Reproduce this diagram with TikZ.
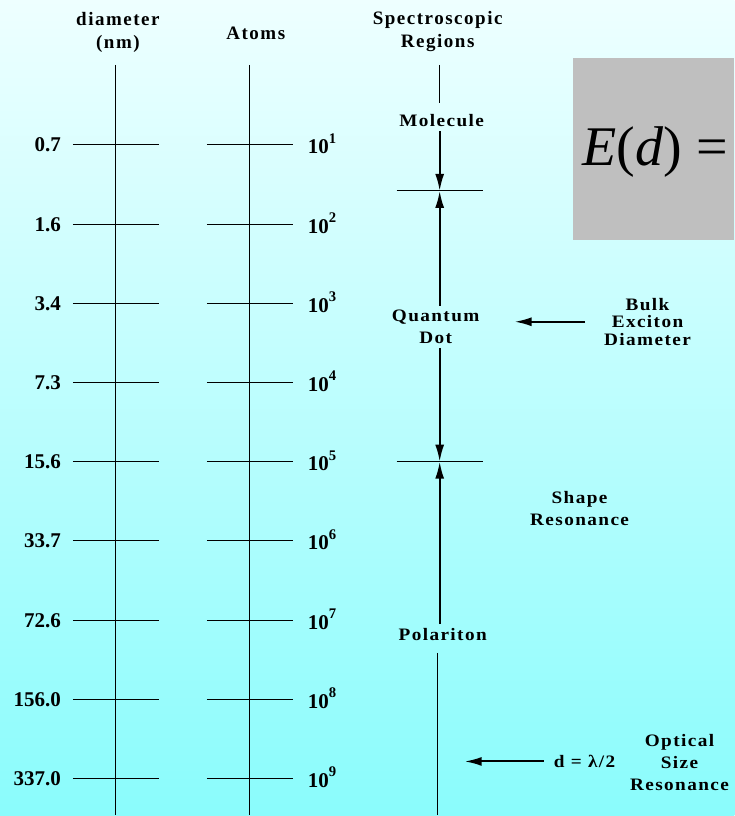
\documentclass[tikz,border=0pt]{standalone}
\usepackage{fontspec}
\setmainfont{Liberation Serif}
\newfontfamily\spacedfont[LetterSpace=8, FakeStretch=1.1]{Liberation Serif}
\newfontfamily\headfont[LetterSpace=8]{Liberation Serif}
\usetikzlibrary{arrows.meta}

\definecolor{skytop}{RGB}{238,255,255}
\definecolor{skybottom}{RGB}{138,252,252}
\definecolor{boxgray}{RGB}{191,191,191}

\tikzset{
  axis/.style={line width=1.2pt},
  tick/.style={line width=1pt},
  head/.style={font=\headfont\fontsize{19}{23}\selectfont\bfseries, align=center, inner sep=0pt},
  num/.style={font=\fontsize{21}{22}\selectfont\bfseries, inner sep=0pt},
  region/.style={font=\spacedfont\fontsize{17.5}{22}\selectfont\bfseries, align=center, inner sep=4pt},
  span/.style={line width=2pt, -{Latex[length=17pt,width=9pt]}},
}

\begin{document}
\begin{tikzpicture}[x=1pt, y=-1pt]
	% background
	\shade[top color=skytop, bottom color=skybottom] (0,0) rectangle (735,816);
	\fill[boxgray] (573,58) rectangle (735,240);
	\node[anchor=base west, inner sep=0pt, font=\fontsize{56}{56}\selectfont] (energy) at (583,166) {\textit{E}(\textit{d}) =};

	% headers
	\node[head] (hdiam) at (118,32) {diameter\\(nm)};
	\node[head] (hatom) at (256,33) {Atoms};
	\node[head] (hspec) at (438,32) {Spectroscopic\\Regions};

	% scales
	\coordinate (dtop) at (116,65);
	\coordinate (dbot) at (116,816);
	\coordinate (atop) at (250,65);
	\coordinate (abot) at (250,816);
	\draw[tick] (dtop) -- (dbot);
	\draw[tick] (atop) -- (abot);

	\foreach \dia/\ex [count=\i] in {0.7/1,1.6/2,3.4/3,7.3/4,15.6/5,33.7/6,72.6/7,156.0/8,337.0/9}{
		\pgfmathsetmacro\yy{145+(\i-1)*79.25}
		\draw[tick] (73,\yy) -- (159,\yy);
		\draw[tick] (207,\yy) -- (293,\yy);
		\node[num, anchor=base east] (d\i) at (61,\yy+7) {\dia};
		\node[num, anchor=base west] (a\i) at (308,\yy+9) {10\raisebox{3pt}{\textsuperscript{\ex}}};
	}

	% spectroscopic regions
	\coordinate (stop) at (440,65);
	\coordinate (smid) at (440,103);
	\coordinate (sbot) at (438,816);
	\coordinate (b1) at (440,191);
	\coordinate (b2) at (440,462);
	\draw[tick] (397,191) -- (483,191);
	\draw[tick] (397,462) -- (483,462);

	\node[region] (mol) at (442,121) {Molecule};
	\node[region] (qd) at (436,327) {Quantum\\Dot};
	\node[region] (pol) at (443,635) {Polariton};

	\draw[axis] (stop) -- (smid);
	\draw[span] (mol.south -| b1) -- (b1);
	\draw[span] (qd.north -| b1) -- (b1);
	\draw[span] (qd.south -| b2) -- (b2);
	\draw[span] (pol.north -| b2) -- (b2);
	\draw[axis, shorten <=8pt] (pol.south -| sbot) -- (sbot);

	% side notes
	\node[region, font=\spacedfont\fontsize{17.5}{17.5}\selectfont\bfseries] (bulk) at (648,322) {Bulk\\Exciton\\Diameter};
	\node[region] (shape) at (580,509) {Shape\\Resonance};
	\node[region] (optic) at (680,763) {Optical\\Size\\Resonance};
	\node[region] (half) at (585,762) {d = λ/2};

	\draw[span, shorten <=15pt, shorten >=31pt] (bulk.west) -- (qd.east |- bulk.west);
	\draw[span, shorten <=6pt, shorten >=27pt] (half.west) -- (sbot |- half.west);
\end{tikzpicture}
\end{document}
